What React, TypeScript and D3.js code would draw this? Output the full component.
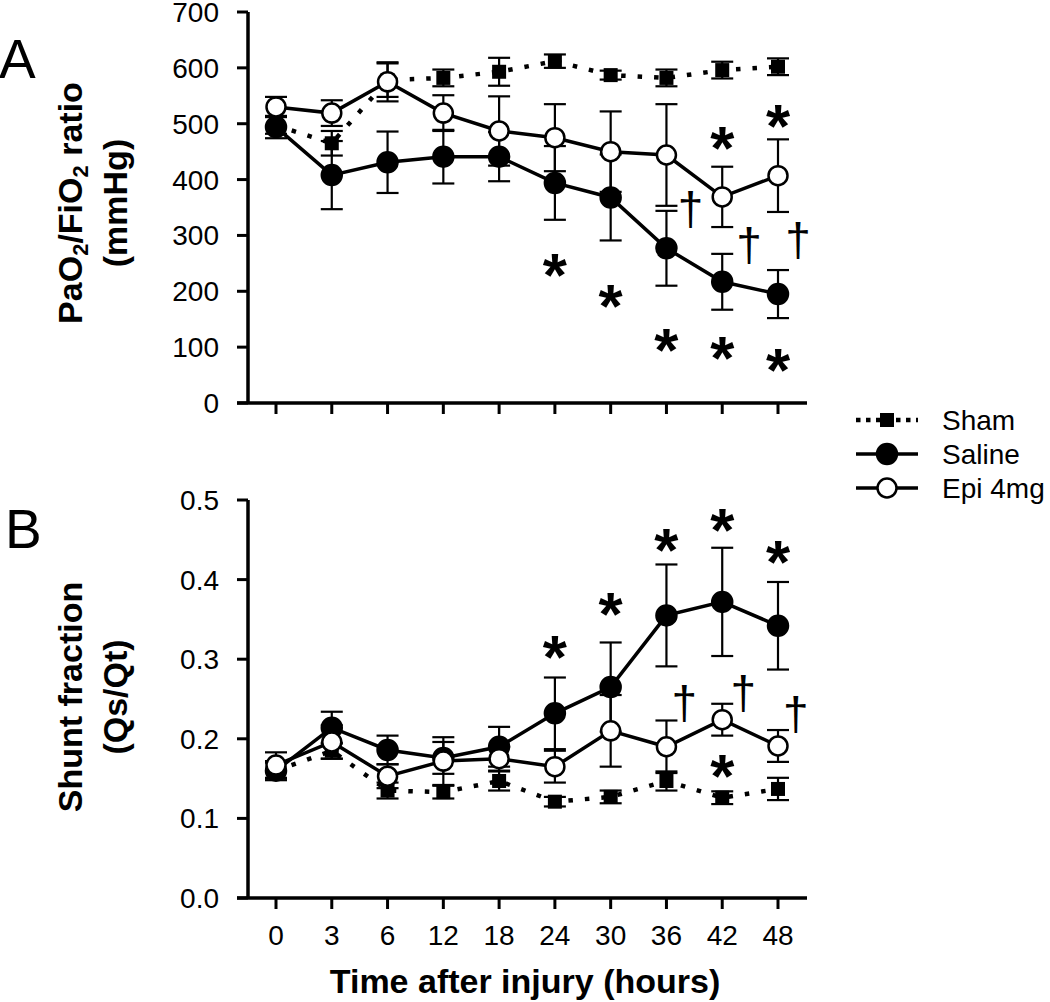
import React from "react";
import * as d3 from "d3";

const timeLabels = ["0", "3", "6", "12", "18", "24", "30", "36", "42", "48"];

// Panel A: PaO2/FiO2 ratio (mmHg)
const shamA = [497, 465, 578, 582, 593, 612, 587, 582, 596, 602];
const shamAErr = [15, 22, 30, 15, 25, 12, 8, 15, 15, 15];
const salineA = [494, 408, 431, 441, 441, 394, 368, 277, 217, 195];
const salineAErr = [20, 61, 55, 48, 44, 66, 77, 67, 50, 43];
const epiA = [530, 519, 575, 519, 487, 475, 450, 444, 369, 407];
const epiAErr = [18, 23, 35, 32, 62, 60, 72, 91, 54, 65];
const yTicksA = [0, 100, 200, 300, 400, 500, 600, 700];
const starsA: [number, number][] = [[5, 253], [6, 197], [7, 118], [8, 104], [9, 82], [8, 480], [9, 519]];
const daggersA: [number, number][] = [[7.43, 342], [8.48, 277], [9.36, 286]];

// Panel B: Shunt fraction (Qs/Qt)
const shamB = [0.16, 0.185, 0.135, 0.133, 0.147, 0.121, 0.127, 0.147, 0.126, 0.137];
const shamBErr = [0.012, 0.01, 0.01, 0.008, 0.012, 0.006, 0.008, 0.012, 0.008, 0.014];
const salineB = [0.16, 0.214, 0.186, 0.176, 0.19, 0.232, 0.265, 0.355, 0.372, 0.342];
const salineBErr = [0.01, 0.02, 0.018, 0.02, 0.025, 0.045, 0.056, 0.064, 0.068, 0.055];
const epiB = [0.167, 0.196, 0.153, 0.172, 0.175, 0.165, 0.21, 0.19, 0.224, 0.191];
const epiBErr = [0.016, 0.021, 0.015, 0.03, 0.015, 0.02, 0.045, 0.033, 0.02, 0.02];
const yTicksB = [0, 0.1, 0.2, 0.3, 0.4, 0.5];
const starsB: [number, number][] = [[5, 0.319], [6, 0.373], [7, 0.454], [8, 0.479], [9, 0.439], [8, 0.169]];
const daggersB: [number, number][] = [[7.32, 0.241], [8.38, 0.254], [9.32, 0.227]];

const legendItems = ["Sham", "Saline", "Epi 4mg"];

const FONT = "'Liberation Sans', Arial, sans-serif";

const x = d3.scaleLinear().domain([0, timeLabels.length - 1]).range([276, 778]);
const yA = d3.scaleLinear().domain([0, 700]).range([403, 12]);
const yB = d3.scaleLinear().domain([0, 0.5]).range([898, 500]);

type Kind = "sham" | "saline" | "epi";

function Series({ vals, errs, y, kind }: { vals: number[]; errs: number[]; y: any; kind: Kind }) {
  const line = d3.line<number>().x((_, i) => x(i)).y((d) => y(d));
  const cap = 11;
  return (
    <g>
      {vals.map((v, i) => (
        <g key={"e" + i} stroke="#000" strokeWidth={2.2}>
          <line x1={x(i)} x2={x(i)} y1={y(v - errs[i])} y2={y(v + errs[i])} />
          <line x1={x(i) - cap} x2={x(i) + cap} y1={y(v + errs[i])} y2={y(v + errs[i])} />
          <line x1={x(i) - cap} x2={x(i) + cap} y1={y(v - errs[i])} y2={y(v - errs[i])} />
        </g>
      ))}
      <path
        d={line(vals) || ""}
        fill="none"
        stroke="#000"
        strokeWidth={kind === "sham" ? 4.5 : 3.5}
        strokeDasharray={kind === "sham" ? "4.5 12" : undefined}
      />
      {vals.map((v, i) =>
        kind === "sham" ? (
          <rect key={"m" + i} x={x(i) - 7} y={y(v) - 7} width={14} height={14} fill="#000" />
        ) : (
          <circle
            key={"m" + i}
            cx={x(i)}
            cy={y(v)}
            r={kind === "saline" ? 10 : 9.5}
            fill={kind === "saline" ? "#000" : "#fff"}
            stroke="#000"
            strokeWidth={2.5}
          />
        )
      )}
    </g>
  );
}

function Axes({ y, ticks, fmt }: { y: any; ticks: number[]; fmt: (v: number) => string }) {
  const [d0, d1] = y.domain();
  const y0 = y(d0);
  return (
    <g>
      <line x1={248} x2={248} y1={y(d1)} y2={y0} stroke="#000" strokeWidth={3.5} />
      <line x1={237} x2={807} y1={y0} y2={y0} stroke="#000" strokeWidth={3.5} />
      {ticks.map((t) => (
        <g key={t}>
          <line x1={237} x2={248} y1={y(t)} y2={y(t)} stroke="#000" strokeWidth={3} />
          <text x={219} y={y(t) + 10} textAnchor="end" fontSize={28} fontFamily={FONT}>
            {fmt(t)}
          </text>
        </g>
      ))}
      {timeLabels.map((_, i) => (
        <line key={i} x1={x(i)} x2={x(i)} y1={y0} y2={y0 + 11} stroke="#000" strokeWidth={3} />
      ))}
    </g>
  );
}

function Marks({ stars, daggers, y }: { stars: [number, number][]; daggers: [number, number][]; y: any }) {
  return (
    <g fontFamily={FONT}>
      {stars.map(([i, v], k) => (
        <text key={"s" + k} x={x(i)} y={y(v) + 34} textAnchor="middle" fontSize={62} fontWeight="bold">
          *
        </text>
      ))}
      {daggers.map(([i, v], k) => (
        <text key={"d" + k} x={x(i)} y={y(v) + 13} textAnchor="middle" fontSize={46}>
          †
        </text>
      ))}
    </g>
  );
}

export default function App() {
  const legendY = [420, 454, 488];
  return (
    <svg width={1050} height={1002} style={{ position: "absolute", left: 0, top: 0, background: "#fff" }}>
      <rect width={1050} height={1002} fill="#fff" />
      {/* Panel letters */}
      <text x={-1} y={78} fontSize={55} fontFamily={FONT}>A</text>
      <text x={5} y={548} fontSize={55} fontFamily={FONT}>B</text>

      {/* Panel A */}
      <g fontFamily={FONT} fontWeight="bold" fontSize={34}>
        <text transform={`translate(82,203) rotate(-90)`} textAnchor="middle">
          PaO<tspan fontSize={22} dy={6}>2</tspan>
          <tspan dy={-6}>/FiO</tspan>
          <tspan fontSize={22} dy={6}>2</tspan>
          <tspan dy={-6}> ratio</tspan>
        </text>
        <text transform={`translate(127,203) rotate(-90)`} textAnchor="middle">(mmHg)</text>
      </g>
      <Axes y={yA} ticks={yTicksA} fmt={(v) => String(v)} />
      <Series vals={salineA} errs={salineAErr} y={yA} kind="saline" />
      <Series vals={shamA} errs={shamAErr} y={yA} kind="sham" />
      <Series vals={epiA} errs={epiAErr} y={yA} kind="epi" />
      <Marks stars={starsA} daggers={daggersA} y={yA} />

      {/* Panel B */}
      <g fontFamily={FONT} fontWeight="bold" fontSize={34}>
        <text transform={`translate(82,697) rotate(-90)`} textAnchor="middle">Shunt fraction</text>
        <text transform={`translate(127,697) rotate(-90)`} textAnchor="middle">(Qs/Qt)</text>
      </g>
      <Axes y={yB} ticks={yTicksB} fmt={(v) => v.toFixed(1)} />
      <Series vals={salineB} errs={salineBErr} y={yB} kind="saline" />
      <Series vals={shamB} errs={shamBErr} y={yB} kind="sham" />
      <Series vals={epiB} errs={epiBErr} y={yB} kind="epi" />
      <Marks stars={starsB} daggers={daggersB} y={yB} />
      {timeLabels.map((t, i) => (
        <text key={t} x={x(i)} y={945} textAnchor="middle" fontSize={28} fontFamily={FONT}>
          {t}
        </text>
      ))}
      <text x={525} y={993} textAnchor="middle" fontSize={34} fontWeight="bold" fontFamily={FONT}>
        Time after injury (hours)
      </text>

      {/* Legend */}
      {legendItems.map((name, k) => {
        const ly = legendY[k];
        return (
          <g key={name}>
            <line
              x1={856}
              x2={918}
              y1={ly}
              y2={ly}
              stroke="#000"
              strokeWidth={k === 0 ? 4.5 : 3.5}
              strokeDasharray={k === 0 ? "4.5 5.5" : undefined}
            />
            {k === 0 ? (
              <rect x={880} y={ly - 7} width={14} height={14} fill="#000" />
            ) : (
              <circle cx={887} cy={ly} r={k === 1 ? 10 : 9.5} fill={k === 1 ? "#000" : "#fff"} stroke="#000" strokeWidth={2.5} />
            )}
            <text x={942} y={ly + 10} fontSize={28} fontFamily={FONT}>
              {name}
            </text>
          </g>
        );
      })}
    </svg>
  );
}
